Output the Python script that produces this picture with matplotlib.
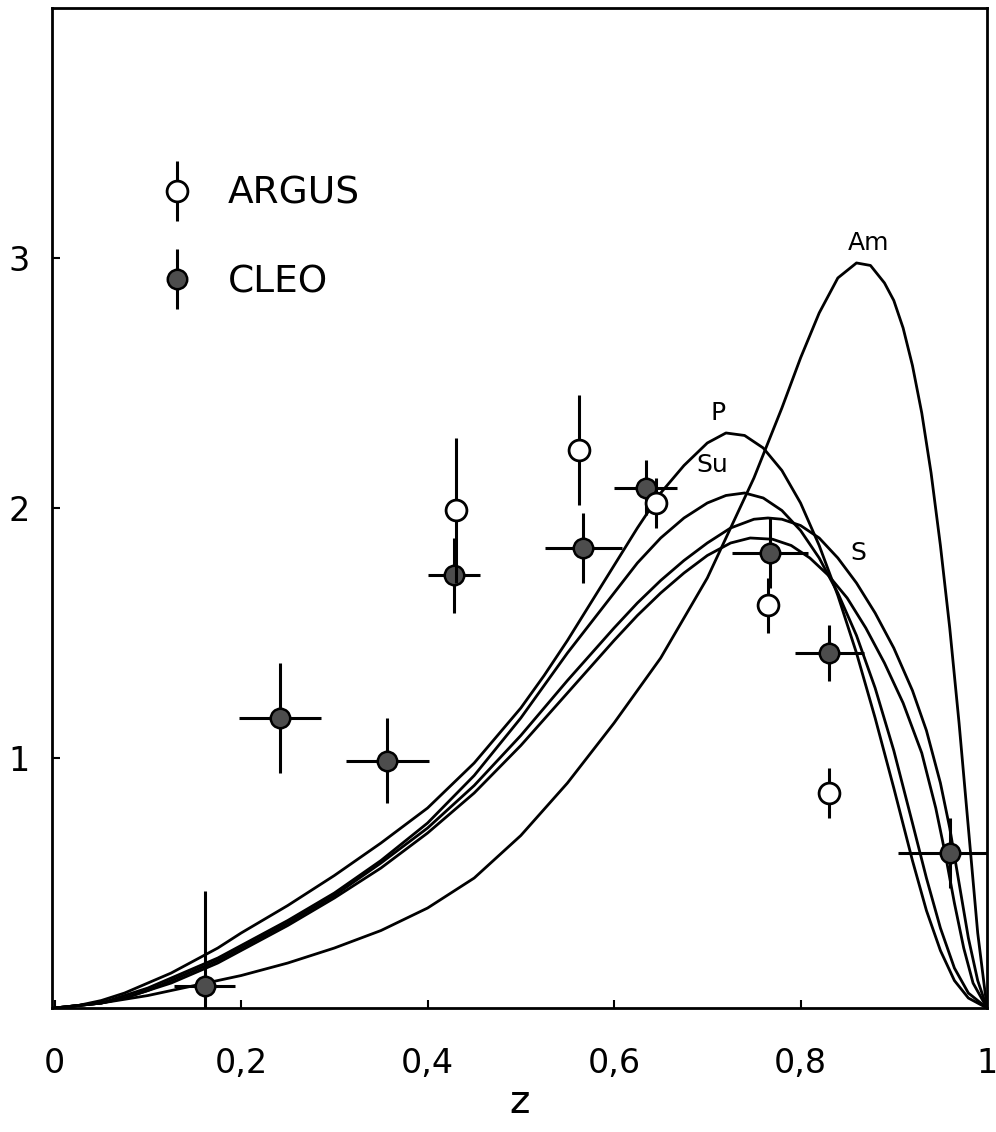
import matplotlib
matplotlib.use('Agg')
import matplotlib.pyplot as plt
from matplotlib.legend_handler import HandlerErrorbar

# fragmentation curves
z_am = [0, 0.025, 0.05, 0.075, 0.1, 0.125, 0.15, 0.175, 0.2, 0.25, 0.3, 0.35, 0.4, 0.45, 0.5,
        0.55, 0.6, 0.65, 0.7, 0.75, 0.78, 0.8, 0.82, 0.84, 0.86, 0.875, 0.89, 0.9, 0.91,
        0.92, 0.93, 0.94, 0.95, 0.96, 0.97, 0.98, 0.99, 1.0]
y_am = [0, 0.01, 0.02, 0.035, 0.05, 0.07, 0.09, 0.11, 0.13, 0.18, 0.24, 0.31, 0.40, 0.52, 0.69,
        0.90, 1.14, 1.40, 1.72, 2.12, 2.40, 2.60, 2.78, 2.92, 2.98, 2.97, 2.90, 2.83, 2.72,
        2.57, 2.38, 2.14, 1.85, 1.52, 1.14, 0.72, 0.30, 0.0]

z_p = [0, 0.025, 0.05, 0.075, 0.1, 0.125, 0.15, 0.175, 0.2, 0.25, 0.3, 0.35, 0.4, 0.45, 0.5,
       0.525, 0.55, 0.575, 0.6, 0.625, 0.65, 0.675, 0.7, 0.72, 0.74, 0.76, 0.78, 0.8, 0.82,
       0.84, 0.86, 0.88, 0.9, 0.92, 0.935, 0.95, 0.965, 0.98, 1.0]
y_p = [0, 0.01, 0.03, 0.06, 0.10, 0.14, 0.19, 0.24, 0.30, 0.41, 0.53, 0.66, 0.80, 0.98, 1.20,
       1.33, 1.47, 1.62, 1.77, 1.92, 2.06, 2.17, 2.26, 2.30, 2.29, 2.24, 2.15, 2.02, 1.85,
       1.65, 1.42, 1.16, 0.88, 0.59, 0.39, 0.23, 0.11, 0.04, 0.0]

z_su = [0, 0.025, 0.05, 0.075, 0.1, 0.125, 0.15, 0.175, 0.2, 0.25, 0.3, 0.35, 0.4, 0.45, 0.5,
        0.525, 0.55, 0.575, 0.6, 0.625, 0.65, 0.675, 0.7, 0.72, 0.74, 0.76, 0.78, 0.8, 0.82,
        0.84, 0.86, 0.88, 0.9, 0.92, 0.935, 0.95, 0.965, 0.98, 1.0]
y_su = [0, 0.01, 0.02, 0.05, 0.08, 0.12, 0.16, 0.20, 0.25, 0.35, 0.46, 0.59, 0.74, 0.93, 1.16,
        1.29, 1.42, 1.54, 1.66, 1.78, 1.88, 1.96, 2.02, 2.05, 2.06, 2.04, 1.99, 1.91, 1.80,
        1.66, 1.49, 1.28, 1.03, 0.74, 0.52, 0.32, 0.16, 0.06, 0.0]

z_s = [0, 0.025, 0.05, 0.075, 0.1, 0.125, 0.15, 0.175, 0.2, 0.25, 0.3, 0.35, 0.4, 0.45, 0.5,
       0.55, 0.6, 0.625, 0.65, 0.675, 0.7, 0.725, 0.75, 0.765, 0.78, 0.8, 0.82, 0.84, 0.86,
       0.88, 0.9, 0.92, 0.935, 0.95, 0.96, 0.97, 0.98, 0.99, 1.0]
y_s = [0, 0.01, 0.02, 0.04, 0.07, 0.11, 0.15, 0.19, 0.24, 0.34, 0.45, 0.58, 0.72, 0.89, 1.09,
       1.31, 1.52, 1.62, 1.71, 1.79, 1.86, 1.92, 1.955, 1.96, 1.955, 1.93, 1.88, 1.80, 1.70,
       1.58, 1.44, 1.27, 1.11, 0.90, 0.72, 0.50, 0.28, 0.11, 0.0]

z_c = [0, 0.025, 0.05, 0.075, 0.1, 0.125, 0.15, 0.175, 0.2, 0.25, 0.3, 0.35, 0.4, 0.45, 0.5,
       0.55, 0.6, 0.625, 0.65, 0.675, 0.7, 0.725, 0.746, 0.77, 0.79, 0.81, 0.83, 0.85, 0.87,
       0.89, 0.91, 0.93, 0.945, 0.955, 0.965, 0.975, 0.985, 1.0]
y_c = [0, 0.01, 0.02, 0.04, 0.07, 0.10, 0.14, 0.18, 0.23, 0.33, 0.44, 0.56, 0.70, 0.86, 1.05,
       1.26, 1.47, 1.57, 1.66, 1.74, 1.81, 1.86, 1.88, 1.875, 1.85, 1.80, 1.73, 1.64, 1.52,
       1.38, 1.22, 1.02, 0.80, 0.62, 0.42, 0.24, 0.10, 0.0]

# data points
argus_z = [0.430, 0.562, 0.645, 0.765, 0.831]
argus_y = [1.99, 2.23, 2.02, 1.61, 0.86]
argus_dy = [0.29, 0.22, 0.10, 0.11, 0.10]

cleo_z = [0.161, 0.242, 0.357, 0.428, 0.567, 0.634, 0.767, 0.831, 0.960]
cleo_y = [0.09, 1.16, 0.99, 1.73, 1.84, 2.08, 1.82, 1.42, 0.62]
cleo_dz = [0.033, 0.044, 0.044, 0.028, 0.041, 0.034, 0.041, 0.037, 0.055]
cleo_dy = [0.38, 0.22, 0.17, 0.15, 0.14, 0.11, 0.14, 0.11, 0.14]

curve_names = ['Am', 'P', 'Su', 'S']
label_pos = [(0.873, 3.06), (0.712, 2.38), (0.705, 2.17), (0.862, 1.82)]

fig = plt.figure(figsize=(9.96, 11.32), dpi=100)
ax = fig.add_axes([0.052, 0.1095, 0.939, 0.8835])

for zz, yy in [(z_am, y_am), (z_p, y_p), (z_su, y_su), (z_s, y_s), (z_c, y_c)]:
    ax.plot(zz, yy, color='k', lw=2.0, zorder=2, solid_joinstyle='round')

for name, (lx, ly) in zip(curve_names, label_pos):
    ax.text(lx, ly, name, fontsize=18, ha='center', va='center')

cl = ax.errorbar(cleo_z, cleo_y, xerr=cleo_dz, yerr=cleo_dy, fmt='o', ms=14,
                 mfc='0.3', mec='k', mew=1.8, ecolor='k', elinewidth=2.2,
                 capsize=0, zorder=4, label='CLEO')
ar = ax.errorbar(argus_z, argus_y, yerr=argus_dy, fmt='o', ms=15,
                 mfc='white', mec='k', mew=2.0, ecolor='k', elinewidth=2.2,
                 capsize=0, zorder=5, label='ARGUS')

hm = {ar: HandlerErrorbar(xerr_size=0.0, yerr_size=0.8),
      cl: HandlerErrorbar(xerr_size=0.0, yerr_size=0.8)}
ax.legend([ar, cl], ['ARGUS', 'CLEO'], handler_map=hm, loc='upper left',
          bbox_to_anchor=(0.078, 0.866), frameon=False, fontsize=27,
          handlelength=1.0, handletextpad=0.85, labelspacing=1.4)

ax.set_xlim(-0.003, 1.0)
ax.set_ylim(0, 4.0)
ax.set_xticks([0, 0.2, 0.4, 0.6, 0.8, 1.0])
ax.set_xticklabels(['0', '0,2', '0,4', '0,6', '0,8', '1'])
ax.set_yticks([1, 2, 3])
ax.set_yticklabels(['1', '2', '3'])
ax.tick_params(direction='in', length=6, width=1.5, labelsize=24)
ax.tick_params(axis='x', pad=28)
ax.tick_params(axis='y', pad=16)
for sp in ax.spines.values():
    sp.set_linewidth(2.0)
ax.set_xlabel('z', fontsize=28, labelpad=2)

fig.savefig('out.png', dpi=100)
